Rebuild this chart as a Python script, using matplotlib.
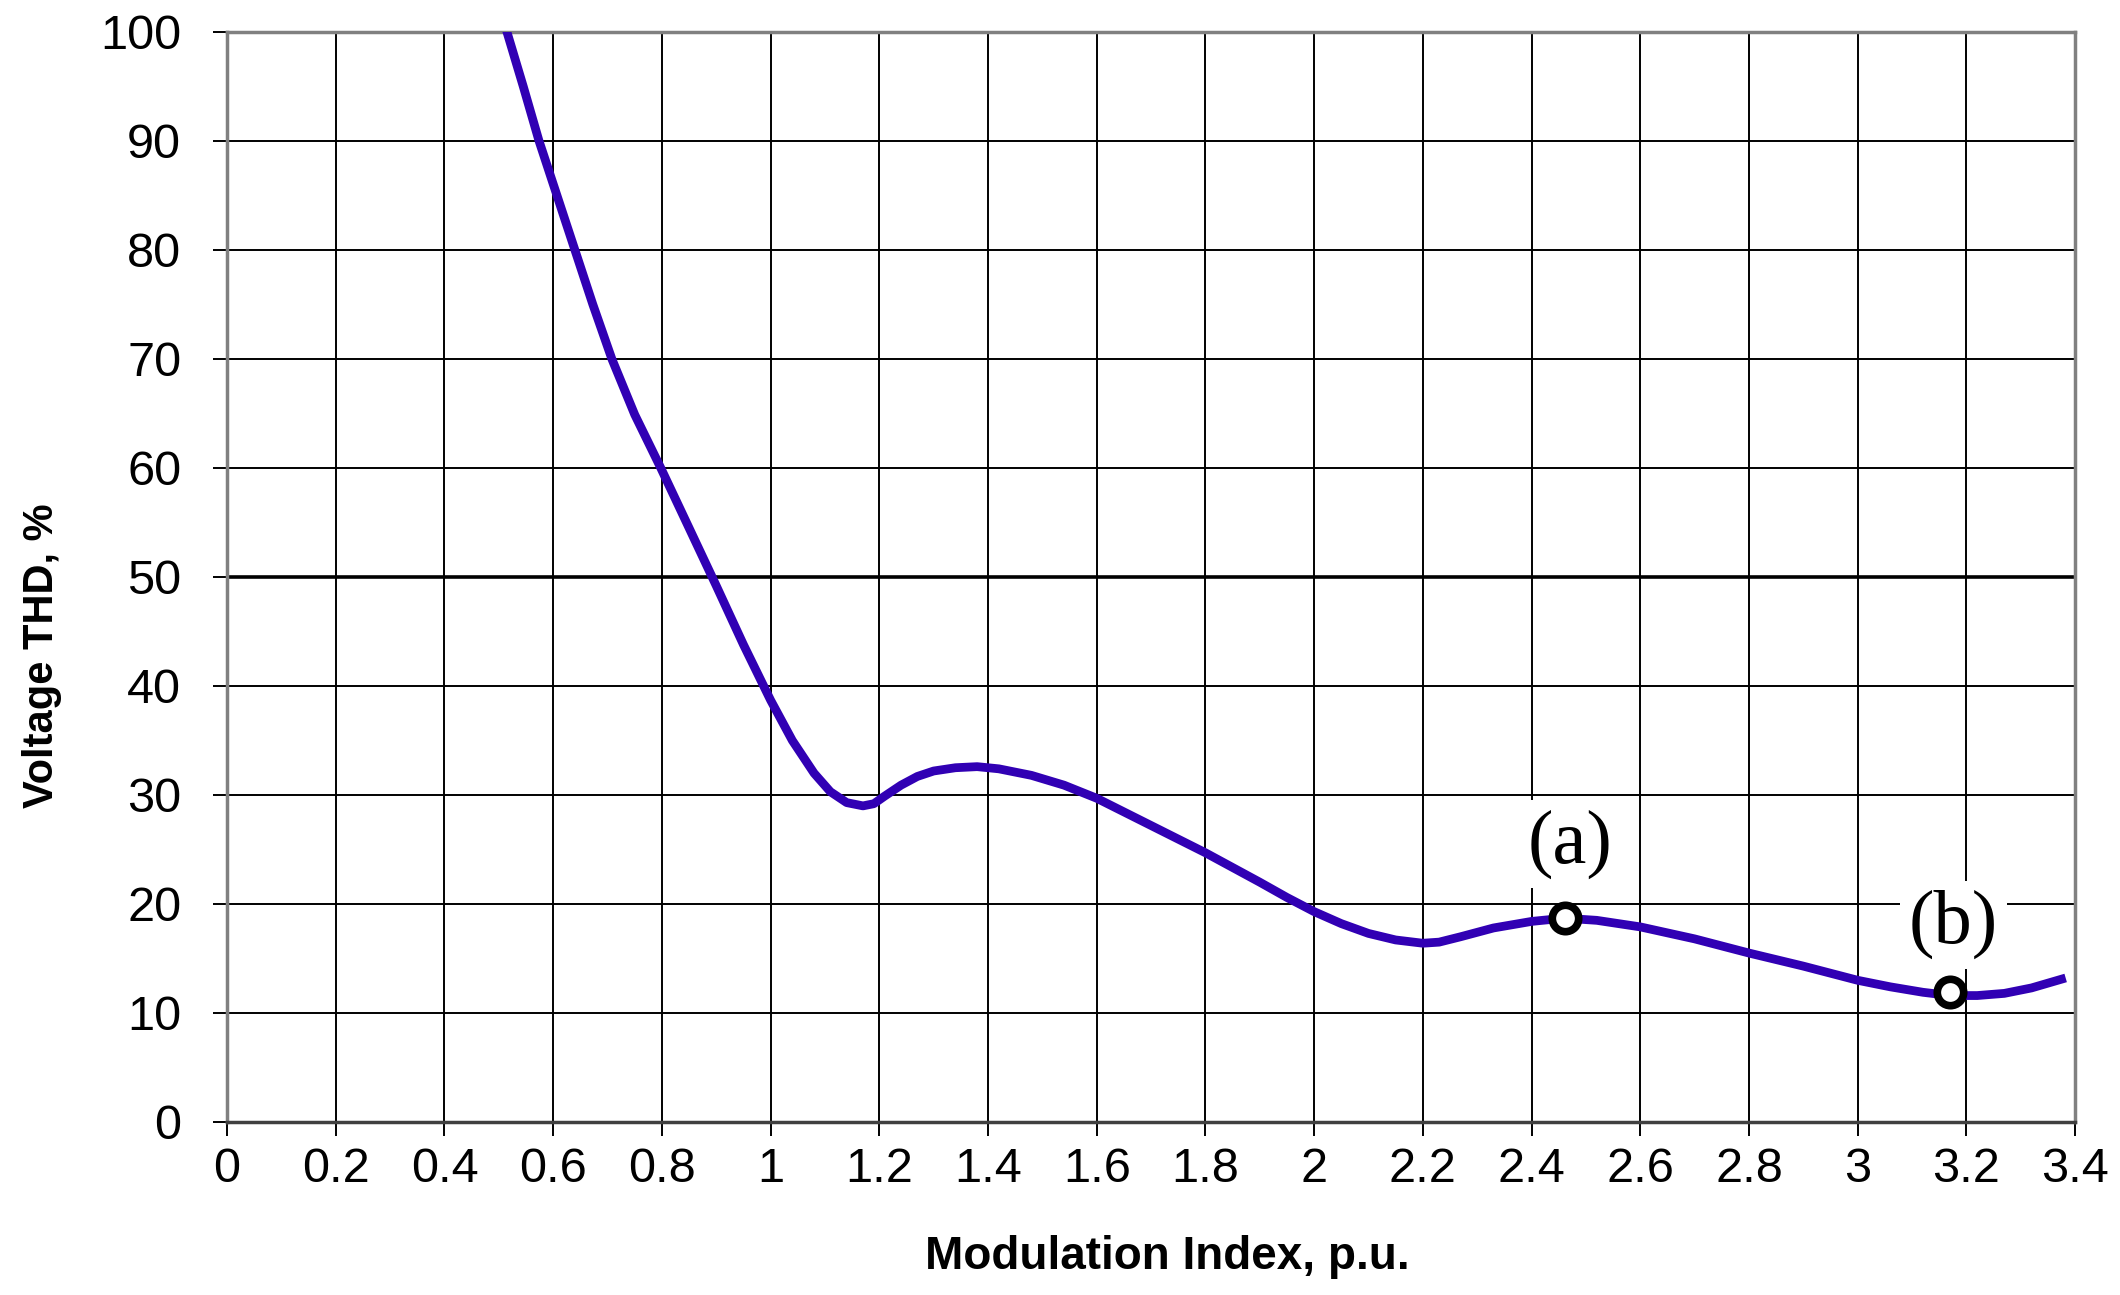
import matplotlib
matplotlib.use("Agg")
import matplotlib.pyplot as plt

# curve
mod_index = [0.515, 0.545, 0.574, 0.607, 0.640, 0.673, 0.708, 0.750, 0.798, 0.85,
             0.90, 0.95, 1.00, 1.04, 1.08, 1.11, 1.14, 1.17, 1.19, 1.21,
             1.24, 1.27, 1.30, 1.34, 1.38, 1.42, 1.48, 1.54, 1.60, 1.70,
             1.80, 1.90, 1.95, 2.00, 2.05, 2.10, 2.15, 2.20, 2.23, 2.27,
             2.33, 2.40, 2.46, 2.52, 2.60, 2.70, 2.80, 2.90, 3.00, 3.06,
             3.12, 3.17, 3.22, 3.27, 3.32, 3.375]
thd = [100.0, 95.0, 90.0, 85.0, 80.0, 75.0, 70.0, 64.9, 60.0, 54.5,
       49.2, 43.8, 38.7, 35.0, 32.0, 30.3, 29.3, 29.0, 29.2, 29.9,
       30.9, 31.7, 32.2, 32.5, 32.6, 32.4, 31.8, 30.9, 29.7, 27.2,
       24.7, 22.0, 20.6, 19.3, 18.2, 17.3, 16.7, 16.4, 16.5, 17.0,
       17.8, 18.4, 18.7, 18.5, 17.9, 16.8, 15.5, 14.3, 13.0, 12.4,
       11.9, 11.6, 11.6, 11.8, 12.3, 13.1]

# marked operating points
point_labels = ["(a)", "(b)"]
point_x = [2.462, 3.170]
point_y = [18.7, 11.9]
label_x = [2.471, 3.176]
label_y = [25.5, 18.1]

x_ticks = [0, 0.2, 0.4, 0.6, 0.8, 1, 1.2, 1.4, 1.6, 1.8, 2, 2.2, 2.4, 2.6, 2.8, 3, 3.2, 3.4]
x_tick_labels = ["0", "0.2", "0.4", "0.6", "0.8", "1", "1.2", "1.4", "1.6", "1.8",
                 "2", "2.2", "2.4", "2.6", "2.8", "3", "3.2", "3.4"]
y_ticks = [0, 10, 20, 30, 40, 50, 60, 70, 80, 90, 100]

plt.rcParams['font.family'] = ['Liberation Sans', 'DejaVu Sans']

fig = plt.figure(figsize=(21.2, 12.95), dpi=100)
ax = fig.add_axes([0.1071, 0.1336, 0.8717, 0.8417])

ax.set_xlim(0, 3.4)
ax.set_ylim(0, 100)
ax.set_xticks(x_ticks)
ax.set_xticklabels(x_tick_labels)
ax.set_yticks(y_ticks)

# grid
ax.grid(True, color='black', linewidth=1.4)
ax.axhline(50, color='black', linewidth=2.6, zorder=1)
ax.set_axisbelow(True)

for side in ['top', 'right', 'left', 'bottom']:
    ax.spines[side].set_color('#808080')
    ax.spines[side].set_linewidth(2.5)
ax.spines['bottom'].set_color('#404040')

ax.tick_params(axis='both', direction='out', length=10, width=1.4,
               color='black', labelsize=35)
ax.tick_params(axis='x', pad=8)
ax.tick_params(axis='y', pad=23)

ax.plot(mod_index, thd, color='#3100B4', linewidth=6.3, zorder=3,
        solid_joinstyle='round')

ax.plot(point_x, point_y, linestyle='none', marker='o', markersize=19,
        markerfacecolor='white', markeredgecolor='black',
        markeredgewidth=5.5, zorder=5)

for lab, tx, ty in zip(point_labels, label_x, label_y):
    ax.text(tx, ty, lab, fontsize=55, family=['Liberation Serif'],
            ha='center', va='center', zorder=4,
            bbox=dict(boxstyle='square,pad=0.12', facecolor='white',
                      edgecolor='none'))

ax.set_xlabel('Modulation Index, p.u.', fontsize=33, fontweight='bold')
ax.set_ylabel('Voltage THD, %', fontsize=30, fontweight='bold')
ax.xaxis.set_label_coords(0.5087, -0.124)
ax.yaxis.set_label_coords(-0.100, 0.4275)
ax.xaxis.label.set_va('center')
ax.yaxis.label.set_va('center')

fig.savefig('out.png', dpi=100)
